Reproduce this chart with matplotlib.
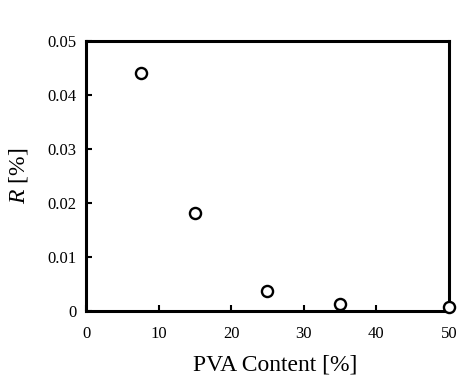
import matplotlib
matplotlib.use('Agg')
import matplotlib.pyplot as plt

# data
pva_content = [7.5, 15, 25, 35, 50]
r_percent = [0.0440, 0.0181, 0.0038, 0.0014, 0.0008]

xticks = [0, 10, 20, 30, 40, 50]
yticks = [0, 0.01, 0.02, 0.03, 0.04, 0.05]
ytick_labels = ['0', '0.01', '0.02', '0.03', '0.04', '0.05']

plt.rcParams['font.family'] = ['Liberation Serif', 'DejaVu Serif']
plt.rcParams['mathtext.fontset'] = 'custom'
plt.rcParams['mathtext.it'] = 'Liberation Serif:italic'
plt.rcParams['mathtext.rm'] = 'Liberation Serif'

fig = plt.figure(figsize=(4.58, 3.78), dpi=100)
ax = fig.add_axes([0.188, 0.177, 0.792, 0.715])

ax.plot(pva_content, r_percent, linestyle='none', marker='o', markersize=8,
        markerfacecolor='white', markeredgecolor='black', markeredgewidth=1.7,
        clip_on=False, zorder=5)

ax.set_xlim(0, 50)
ax.set_ylim(0, 0.05)
ax.set_xticks(xticks)
ax.set_yticks(yticks)
ax.set_yticklabels(ytick_labels)

ax.tick_params(direction='in', length=4, width=1.5, labelsize=12, color='black')
ax.tick_params(axis='x', pad=11)
ax.tick_params(axis='y', pad=7)

for s in ax.spines.values():
    s.set_linewidth(2.2)

ax.set_xlabel('PVA Content [%]', fontsize=17)
ax.set_ylabel(r'$R$ [%]', fontsize=17)
ax.xaxis.set_label_coords(0.52, -0.16)
ax.yaxis.set_label_coords(-0.155, 0.5)

fig.savefig('out.png', dpi=100)
